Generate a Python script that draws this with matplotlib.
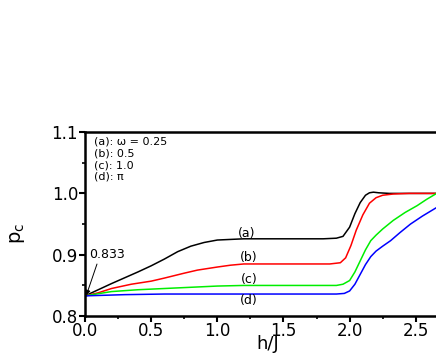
import numpy as np
import matplotlib.pyplot as plt

# curve (a): omega = 0.25
h_a = [0, 0.2, 0.4, 0.5, 0.6, 0.7, 0.8, 0.9, 1.0, 1.1, 1.2, 1.5, 1.8, 1.9, 1.95,
       2.0, 2.04, 2.08, 2.12, 2.15, 2.18, 2.22, 2.3, 2.5, 2.65]
p_a = [0.833, 0.853, 0.872, 0.882, 0.893, 0.905, 0.914, 0.920, 0.924, 0.925, 0.926,
       0.926, 0.926, 0.927, 0.930, 0.945, 0.967, 0.985, 0.997, 1.001, 1.002, 1.001,
       1.000, 1.000, 1.000]

# curve (b): omega = 0.5
h_b = [0, 0.1, 0.2, 0.35, 0.5, 0.6, 0.75, 0.85, 1.0, 1.1, 1.2, 1.5, 1.85, 1.93, 1.97,
       2.01, 2.05, 2.1, 2.15, 2.2, 2.25, 2.33, 2.45, 2.65]
p_b = [0.833, 0.838, 0.845, 0.852, 0.857, 0.862, 0.870, 0.875, 0.880, 0.883, 0.885,
       0.885, 0.885, 0.887, 0.895, 0.915, 0.940, 0.965, 0.984, 0.993, 0.997, 0.999,
       1.000, 1.000]

# curve (c): omega = 1.0
h_c = [0, 0.2, 0.4, 0.6, 0.8, 1.0, 1.2, 1.5, 1.9, 1.95, 2.0, 2.04, 2.08, 2.12, 2.16,
       2.2, 2.25, 2.33, 2.42, 2.51, 2.58, 2.65]
p_c = [0.833, 0.840, 0.843, 0.845, 0.847, 0.849, 0.850, 0.850, 0.850, 0.852, 0.858,
       0.872, 0.890, 0.908, 0.923, 0.932, 0.942, 0.956, 0.969, 0.980, 0.990, 0.999]

# curve (d): omega = pi
h_d = [0, 0.3, 0.6, 1.0, 1.5, 1.9, 1.96, 2.0, 2.04, 2.08, 2.12, 2.16, 2.2, 2.25, 2.31,
       2.38, 2.46, 2.55, 2.65]
p_d = [0.833, 0.835, 0.836, 0.836, 0.836, 0.836, 0.837, 0.841, 0.852, 0.868, 0.884,
       0.897, 0.906, 0.914, 0.923, 0.936, 0.950, 0.963, 0.976]

plt.rcParams['font.family'] = ['DejaVu Sans']

fig = plt.figure(figsize=(4.36, 3.54), dpi=100)
ax = fig.add_axes([0.195, 0.107, 0.805, 0.520])

ax.plot(h_a, p_a, color='black', lw=1.1)
ax.plot(h_b, p_b, color='red', lw=1.1)
ax.plot(h_c, p_c, color='#00ee00', lw=1.1)
ax.plot(h_d, p_d, color='blue', lw=1.1)

ax.set_xlim(0, 2.653)
ax.set_ylim(0.8, 1.1)
ax.set_xticks([0.0, 0.5, 1.0, 1.5, 2.0, 2.5])
ax.set_xticks(np.arange(0.25, 2.6, 0.5), minor=True)
ax.set_yticks([0.8, 0.9, 1.0, 1.1])
ax.set_yticks([0.85, 0.95, 1.05], minor=True)
ax.xaxis.set_major_formatter(plt.FormatStrFormatter('%.1f'))
ax.yaxis.set_major_formatter(plt.FormatStrFormatter('%.1f'))
ax.tick_params(which='major', direction='out', length=4, width=1.5, labelsize=12)
ax.tick_params(which='minor', direction='out', length=2.5, width=1.2)
ax.tick_params(axis='x', pad=0)
ax.tick_params(axis='y', pad=1)

for s in ['left', 'bottom', 'top']:
    ax.spines[s].set_linewidth(1.8)
ax.spines['right'].set_visible(False)

ax.set_xlabel('h/J', fontsize=13)
ax.xaxis.set_label_coords(0.52, -0.105)
ax.set_ylabel(r'p$_\mathregular{c}$', fontsize=14)
ax.yaxis.set_label_coords(-0.165, 0.45)

ax.text(0.07, 1.092, '(a): \u03c9 = 0.25\n(b): 0.5\n(c): 1.0\n(d): \u03c0',
        fontsize=8, va='top', ha='left', linespacing=1.2)

ax.text(1.22, 0.934, '(a)', fontsize=9, ha='center', va='center')
ax.text(1.24, 0.895, '(b)', fontsize=9, ha='center', va='center')
ax.text(1.24, 0.859, '(c)', fontsize=9, ha='center', va='center')
ax.text(1.24, 0.825, '(d)', fontsize=9, ha='center', va='center')

ax.annotate('0.833', xy=(0.01, 0.834), xytext=(0.03, 0.900), fontsize=9,
            ha='left', va='center',
            arrowprops=dict(arrowstyle='-|>', color='black', lw=0.7,
                            mutation_scale=7,
                            shrinkA=0, shrinkB=0, relpos=(0.25, 0.0)))

fig.savefig('out.png', dpi=100)
